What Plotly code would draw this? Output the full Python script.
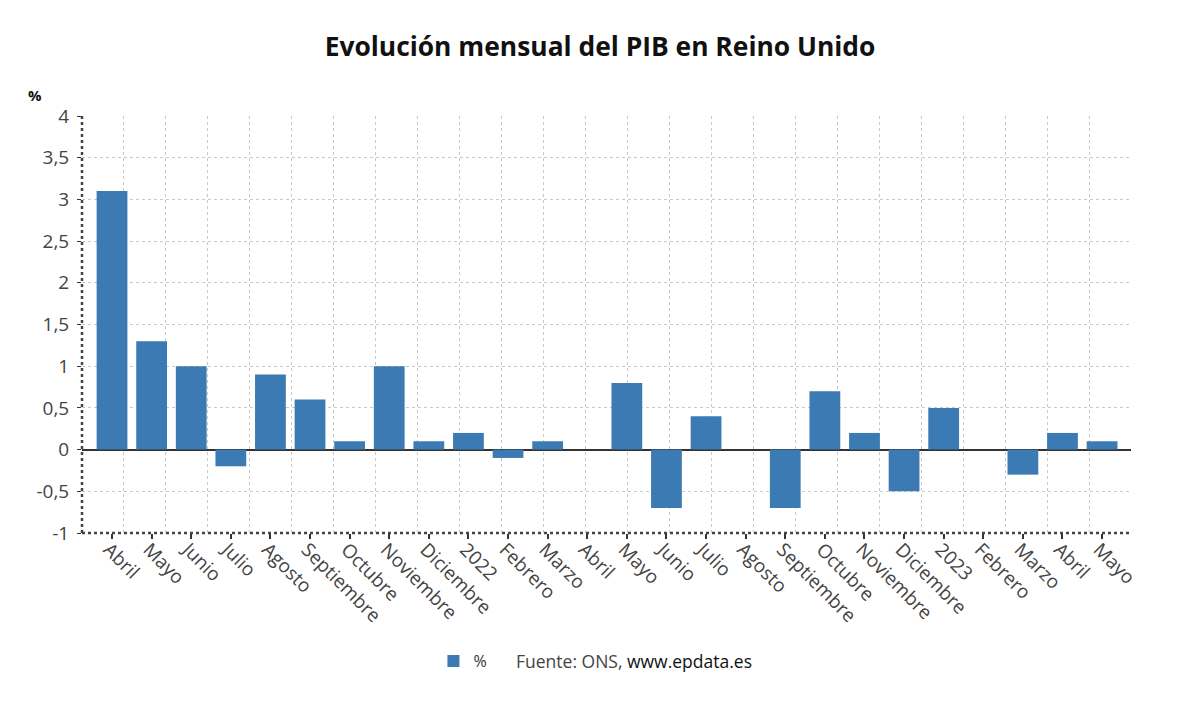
import plotly.graph_objects as go

categories = ["Abril", "Mayo", "Junio", "Julio", "Agosto", "Septiembre", "Octubre",
              "Noviembre", "Diciembre", "2022", "Febrero", "Marzo", "Abril", "Mayo",
              "Junio", "Julio", "Agosto", "Septiembre", "Octubre", "Noviembre",
              "Diciembre", "2023", "Febrero", "Marzo", "Abril", "Mayo"]
values = [3.1, 1.3, 1.0, -0.2, 0.9, 0.6, 0.1, 1.0, 0.1, 0.2, -0.1, 0.1, 0.0, 0.8,
          -0.7, 0.4, 0.0, -0.7, 0.7, 0.2, -0.5, 0.5, 0.0, -0.3, 0.2, 0.1]
y_ticks = [-1, -0.5, 0, 0.5, 1, 1.5, 2, 2.5, 3, 3.5, 4]
y_ticktext = ["-1", "-0,5", "0", "0,5", "1", "1,5", "2", "2,5", "3", "3,5", "4"]

x_pos = list(range(len(categories)))
FONT = "Open Sans"

X_MIN, X_MAX = -0.758, 25.73
N_VGRID = 25  # vertical grid divisions across the plot width

fig = go.Figure()
fig.add_trace(go.Bar(
    x=x_pos, y=values, name="%", width=0.777,
    marker=dict(color="#3b7ab3", line=dict(width=0)),
))

fig.update_layout(
    width=1200, height=705,
    plot_bgcolor="white", paper_bgcolor="white",
    separators=",.",
    font=dict(family=FONT, color="#444"),
    margin=dict(l=74, r=77, t=108, b=180),
    title=dict(text="<b>Evolución mensual del PIB en Reino Unido</b>",
               x=592 / 1200, xanchor="center", y=1 - 39 / 705, yanchor="middle",
               font=dict(size=26.4, color="#111", family=FONT)),
    showlegend=True,
    legend=dict(orientation="h", x=0.335, y=-0.307, xanchor="left", yanchor="middle",
                font=dict(size=16, color="#333"), itemwidth=30,
                bgcolor="rgba(0,0,0,0)"),
)

fig.update_xaxes(
    range=[X_MIN, X_MAX],
    tickmode="array", tickvals=x_pos, ticktext=categories,
    tickangle=45, tickfont=dict(size=19, color="#444"),
    showgrid=False, zeroline=False,
    ticks="outside", ticklen=5, tickcolor="#333", tickwidth=2,
    ticklabelstandoff=-8, ticklabelshift=-3,
    showline=False,
    minor=dict(tick0=X_MIN, dtick=(X_MAX - X_MIN) / N_VGRID, showgrid=True,
               gridcolor="#c8c8c8", griddash="dot", gridwidth=1, ticks=""),
)
fig.update_yaxes(
    range=[-1, 4], tickmode="array", tickvals=y_ticks, ticktext=y_ticktext,
    tickfont=dict(size=19, color="#444"),
    showgrid=True, gridcolor="#c8c8c8", griddash="dot", gridwidth=1,
    zeroline=True, zerolinecolor="#333", zerolinewidth=2,
    ticks="outside", ticklen=4, tickcolor="#333",
    ticklabelstandoff=4,
    showline=False,
)

# dotted axis lines
fig.add_shape(type="line", xref="paper", yref="paper", x0=0, x1=0, y0=0, y1=1,
              line=dict(color="#444", width=2.5, dash="dot"))
fig.add_shape(type="line", xref="paper", yref="paper", x0=0, x1=1, y0=0, y1=0,
              line=dict(color="#444", width=2.5, dash="dot"))

fig.add_annotation(text="<b>%</b>", xref="paper", yref="paper", x=-0.045, y=1.05,
                   yanchor="middle", showarrow=False,
                   font=dict(size=15, color="#111"), xanchor="center")
fig.add_annotation(
    text="<span style='color:#444'>Fuente: ONS, </span><span style='color:#111'>www.epdata.es</span>",
    xref="paper", yref="paper", x=0.412, y=-0.307, xanchor="left", yanchor="middle",
    showarrow=False, font=dict(size=17.5, family=FONT))

fig.write_html("out.html")
